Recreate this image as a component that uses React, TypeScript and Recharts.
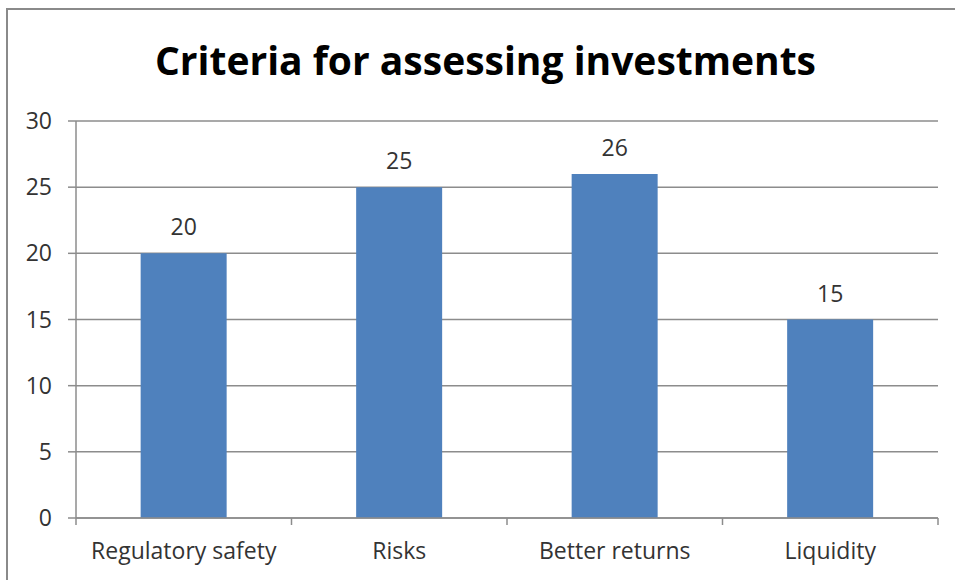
import React from 'react'
import { BarChart, Bar, XAxis, YAxis, CartesianGrid, LabelList } from 'recharts'

const categories = ['Regulatory safety', 'Risks', 'Better returns', 'Liquidity']
const values = [20, 25, 26, 15]
const yTicks = [0, 5, 10, 15, 20, 25, 30]

const data = categories.map((name, i) => ({ name, value: values[i] }))

const FONT = '"Open Sans", Lato, sans-serif'
const GRID = '#8c8c8c'
const TEXT = '#333333'
const X_TICK_SIZE = 0
const X_TICK_MARGIN = 25

// category label plus the small divider ticks Excel draws between categories
function CategoryTick(props: any) {
  const { x, y, payload, index, width } = props
  const half = payload?.offset ?? (width ? width / categories.length / 2 : 0)
  const axisY = y - X_TICK_SIZE - X_TICK_MARGIN
  return (
    <g>
      {index === 0 && (
        <line x1={x - half} x2={x - half} y1={axisY} y2={axisY + 7} stroke={GRID} strokeWidth={1.5} />
      )}
      <line x1={x + half} x2={x + half} y1={axisY} y2={axisY + 7} stroke={GRID} strokeWidth={1.5} />
      <text x={x} y={y} dy="0.71em" textAnchor="middle" fill={TEXT} fontSize={23} fontFamily={FONT}>
        {payload.value}
      </text>
    </g>
  )
}

export default function App() {
  return (
    <div>
      <style>{'body{margin:0;overflow:hidden;background:#fff}'}</style>
      <div
        style={{
          position: 'absolute',
          left: 6,
          top: 8,
          width: 960,
          height: 590,
          border: '2px solid #8a8a8a',
          background: '#fff',
          fontFamily: FONT,
        }}
      >
        <div
          style={{
            position: 'absolute',
            left: 0,
            width: 955,
            top: 25,
            textAlign: 'center',
            fontSize: 39,
            fontWeight: 700,
            color: '#000',
            lineHeight: '50px',
          }}
        >
          Criteria for assessing investments
        </div>
        <BarChart
          width={945}
          height={570}
          data={data}
          margin={{ top: 111, right: 15, bottom: 12, left: 0 }}
          barCategoryGap="30%"
        >
          <CartesianGrid vertical={false} stroke={GRID} strokeWidth={1.5} />
          <XAxis
            dataKey="name"
            height={50}
            axisLine={{ stroke: GRID, strokeWidth: 1.5 }}
            tickLine={false}
            tickSize={X_TICK_SIZE}
            tickMargin={X_TICK_MARGIN}
            tick={<CategoryTick />}
            interval={0}
          />
          <YAxis
            domain={[0, 30]}
            ticks={yTicks}
            width={68}
            axisLine={{ stroke: GRID, strokeWidth: 1.5 }}
            tickLine={{ stroke: GRID, strokeWidth: 1.5 }}
            tickSize={8}
            tickMargin={16}
            tick={{ fill: TEXT, fontSize: 23, fontFamily: FONT }}
          />
          <Bar dataKey="value" fill="#4f81bd" isAnimationActive={false}>
            <LabelList
              dataKey="value"
              position="top"
              offset={18}
              fill={TEXT}
              fontSize={23}
              fontFamily={FONT}
            />
          </Bar>
        </BarChart>
      </div>
    </div>
  )
}
